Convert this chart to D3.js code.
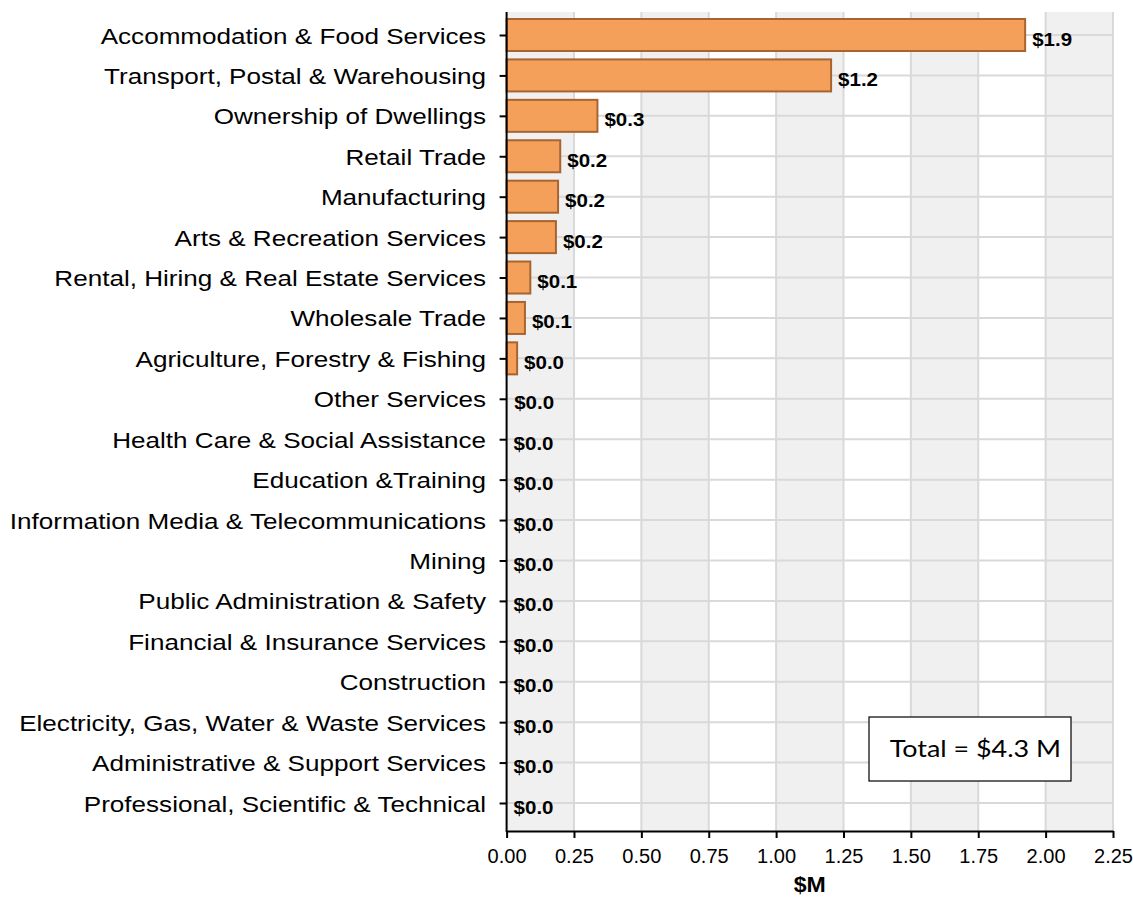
<!DOCTYPE html>
<html>
<head>
<meta charset="utf-8">
<script src="https://cdn.jsdelivr.net/npm/d3@7/dist/d3.min.js"></script>
<style>
  html, body { margin: 0; padding: 0; background: #fff; }
  svg { display: block; }
</style>
</head>
<body>
<svg id="chart" width="1133" height="899"></svg>
<script>
// ---- data ----
const categories = [
  "Accommodation & Food Services",
  "Transport, Postal & Warehousing",
  "Ownership of Dwellings",
  "Retail Trade",
  "Manufacturing",
  "Arts & Recreation Services",
  "Rental, Hiring & Real Estate Services",
  "Wholesale Trade",
  "Agriculture, Forestry & Fishing",
  "Other Services",
  "Health Care & Social Assistance",
  "Education &Training",
  "Information Media & Telecommunications",
  "Mining",
  "Public Administration & Safety",
  "Financial & Insurance Services",
  "Construction",
  "Electricity, Gas, Water & Waste Services",
  "Administrative & Support Services",
  "Professional, Scientific & Technical"
];
const values = [1.924, 1.204, 0.337, 0.199, 0.191, 0.183, 0.088, 0.068, 0.039, 0.002,
                0, 0, 0, 0, 0, 0, 0, 0, 0, 0];
const xTicks = [0, 0.25, 0.5, 0.75, 1.0, 1.25, 1.5, 1.75, 2.0, 2.25];
const xAxisTitle = "$M";
const totalLabel = "Total = $4.3 M";

// ---- layout ----
const SX = 1.17; // horizontal text stretch
const plotLeft = 506.6, plotRight = 1113, plotTop = 12, plotBottom = 831;
const svg = d3.select("#chart");

const x = d3.scaleLinear().domain([0, 2.25]).range([plotLeft, plotRight]);
const y = d3.scalePoint().domain(categories).range([35, 803]);
const barH = 32;

// alternating bands
const bands = d3.range(xTicks.length - 1).filter(i => i % 2 === 0);
svg.append("g").selectAll("rect").data(bands).join("rect")
  .attr("x", i => x(xTicks[i]))
  .attr("y", plotTop)
  .attr("width", i => x(xTicks[i + 1]) - x(xTicks[i]))
  .attr("height", plotBottom - plotTop)
  .attr("fill", "#f0f0f0");

// vertical gridlines
svg.append("g").selectAll("line").data(xTicks.slice(1)).join("line")
  .attr("x1", d => x(d)).attr("x2", d => x(d))
  .attr("y1", plotTop).attr("y2", plotBottom)
  .attr("stroke", "#d9d9d9").attr("stroke-width", 2);

// horizontal gridlines at category centres
svg.append("g").selectAll("line").data(categories).join("line")
  .attr("x1", plotLeft).attr("x2", plotRight)
  .attr("y1", d => y(d)).attr("y2", d => y(d))
  .attr("stroke", "#d9d9d9").attr("stroke-width", 2);

// bars
svg.append("g").selectAll("rect").data(categories.map((c, i) => ({c, v: values[i]})).filter(d => d.v > 0))
  .join("rect")
  .attr("x", x(0))
  .attr("y", d => y(d.c) - barH / 2)
  .attr("width", d => x(d.v) - x(0))
  .attr("height", barH)
  .attr("fill", "#f5a05a")
  .attr("stroke", "#a8642f")
  .attr("stroke-width", d => (x(d.v) - x(0)) > 2 ? 2 : 0);

// value labels
const fmt = d3.format(".1f");
svg.append("g").selectAll("text").data(categories.map((c, i) => ({c, v: values[i]}))).join("text")
  .attr("transform", d => `translate(${x(d.v) + 7},${y(d.c) + 10.5}) scale(1.08,1)`)
  .attr("font-family", "'Liberation Sans', Arial, sans-serif")
  .attr("font-weight", "bold")
  .attr("font-size", 19)
  .attr("fill", "#000")
  .text(d => "$" + fmt(d.v));

// y axis
const yAxis = svg.append("g")
  .attr("transform", `translate(${plotLeft},0)`)
  .call(d3.axisLeft(y).tickSize(7).tickPadding(14).tickSizeOuter(0));
yAxis.select(".domain").remove();
yAxis.selectAll(".tick line").attr("stroke", "#000").attr("stroke-width", 2);
yAxis.selectAll(".tick text")
  .attr("font-family", "'Liberation Sans', Arial, sans-serif")
  .attr("font-size", 22.3)
  .attr("fill", "#000")
  .attr("x", -20.5 / SX)
  .attr("dy", "0.36em")
  .attr("transform", `scale(${SX},1)`);
svg.append("line")
  .attr("x1", plotLeft).attr("x2", plotLeft)
  .attr("y1", plotTop).attr("y2", plotBottom + 1)
  .attr("stroke", "#000").attr("stroke-width", 2);

// x axis
const xAxis = svg.append("g")
  .attr("transform", `translate(0,${plotBottom})`)
  .call(d3.axisBottom(x).tickValues(xTicks).tickFormat(d3.format(".2f")).tickSize(7).tickPadding(10).tickSizeOuter(0));
xAxis.select(".domain").attr("stroke", "#000").attr("stroke-width", 2);
xAxis.selectAll(".tick line").attr("stroke", "#000").attr("stroke-width", 2);
xAxis.selectAll(".tick text")
  .attr("font-family", "'Liberation Sans', Arial, sans-serif")
  .attr("font-size", 19.3)
  .attr("fill", "#000")
  .attr("y", 0).attr("dy", 0)
  .attr("transform", `translate(0,32) scale(1.04,1)`);

// x axis title
svg.append("text")
  .attr("transform", `translate(${(plotLeft + plotRight) / 2},${892}) scale(1.05,1)`)
  .attr("text-anchor", "middle")
  .attr("font-family", "'Liberation Sans', Arial, sans-serif")
  .attr("font-weight", "bold")
  .attr("font-size", 22)
  .text(xAxisTitle);

// total box
svg.append("rect")
  .attr("x", 869).attr("y", 717).attr("width", 202).attr("height", 64)
  .attr("fill", "#fff").attr("stroke", "#000").attr("stroke-width", 1.2);
svg.append("text")
  .attr("transform", `translate(1061,757) scale(${SX},1)`)
  .attr("text-anchor", "end")
  .attr("font-family", "Lato, 'Open Sans', sans-serif")
  .attr("font-size", 23)
  .attr("fill", "#000")
  .text(totalLabel);
</script>
</body>
</html>
